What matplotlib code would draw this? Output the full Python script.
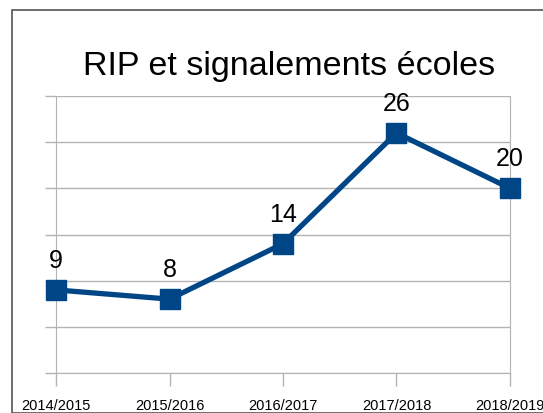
import matplotlib.pyplot as plt
from matplotlib.patches import Rectangle

plt.rcParams['font.family'] = ['Liberation Sans', 'DejaVu Sans']

years = ["2014/2015", "2015/2016", "2016/2017", "2017/2018", "2018/2019"]
counts = [9, 8, 14, 26, 20]

W, H = 543, 414
fig = plt.figure(figsize=(W / 100, H / 100), dpi=100)

# outer frame, cropped on the right and bottom
fig.patches.append(Rectangle((12 / W, 0), 2, 1 - 11 / H, transform=fig.transFigure,
                             fill=False, edgecolor="#555555", linewidth=1.2))

ax = fig.add_axes([56 / W, 1 - 374 / H, (510 - 56) / W, (374 - 97) / H])
x = list(range(len(years)))
ax.plot(x, counts, color="#004586", linewidth=3.8, marker="s", markersize=14,
        clip_on=False, zorder=3)
for xi, c in zip(x, counts):
    ax.annotate(str(c), (xi, c), xytext=(0, 13), textcoords="offset points",
                ha="center", va="bottom", fontsize=18)

ax.set_xlim(0, 4)
ax.set_ylim(0, 30)
ax.set_yticks(range(0, 31, 5))
ax.set_yticklabels([])
ax.set_xticks(x)
ax.set_xticklabels(years, fontsize=10.5)
ax.grid(axis="y", color="#b3b3b3", linewidth=1)
ax.tick_params(axis="y", length=8, color="#b3b3b3", width=1)
ax.tick_params(axis="x", length=9, color="#b3b3b3", width=1, pad=9)
ax.spines["top"].set_visible(False)
for s in ["left", "bottom", "right"]:
    ax.spines[s].set_color("#b3b3b3")
ax.set_axisbelow(True)

fig.text(289 / W, 1 - 66 / H, "RIP et signalements écoles", ha="center", va="center",
         fontsize=24.5)

fig.savefig("out.png", dpi=100)
